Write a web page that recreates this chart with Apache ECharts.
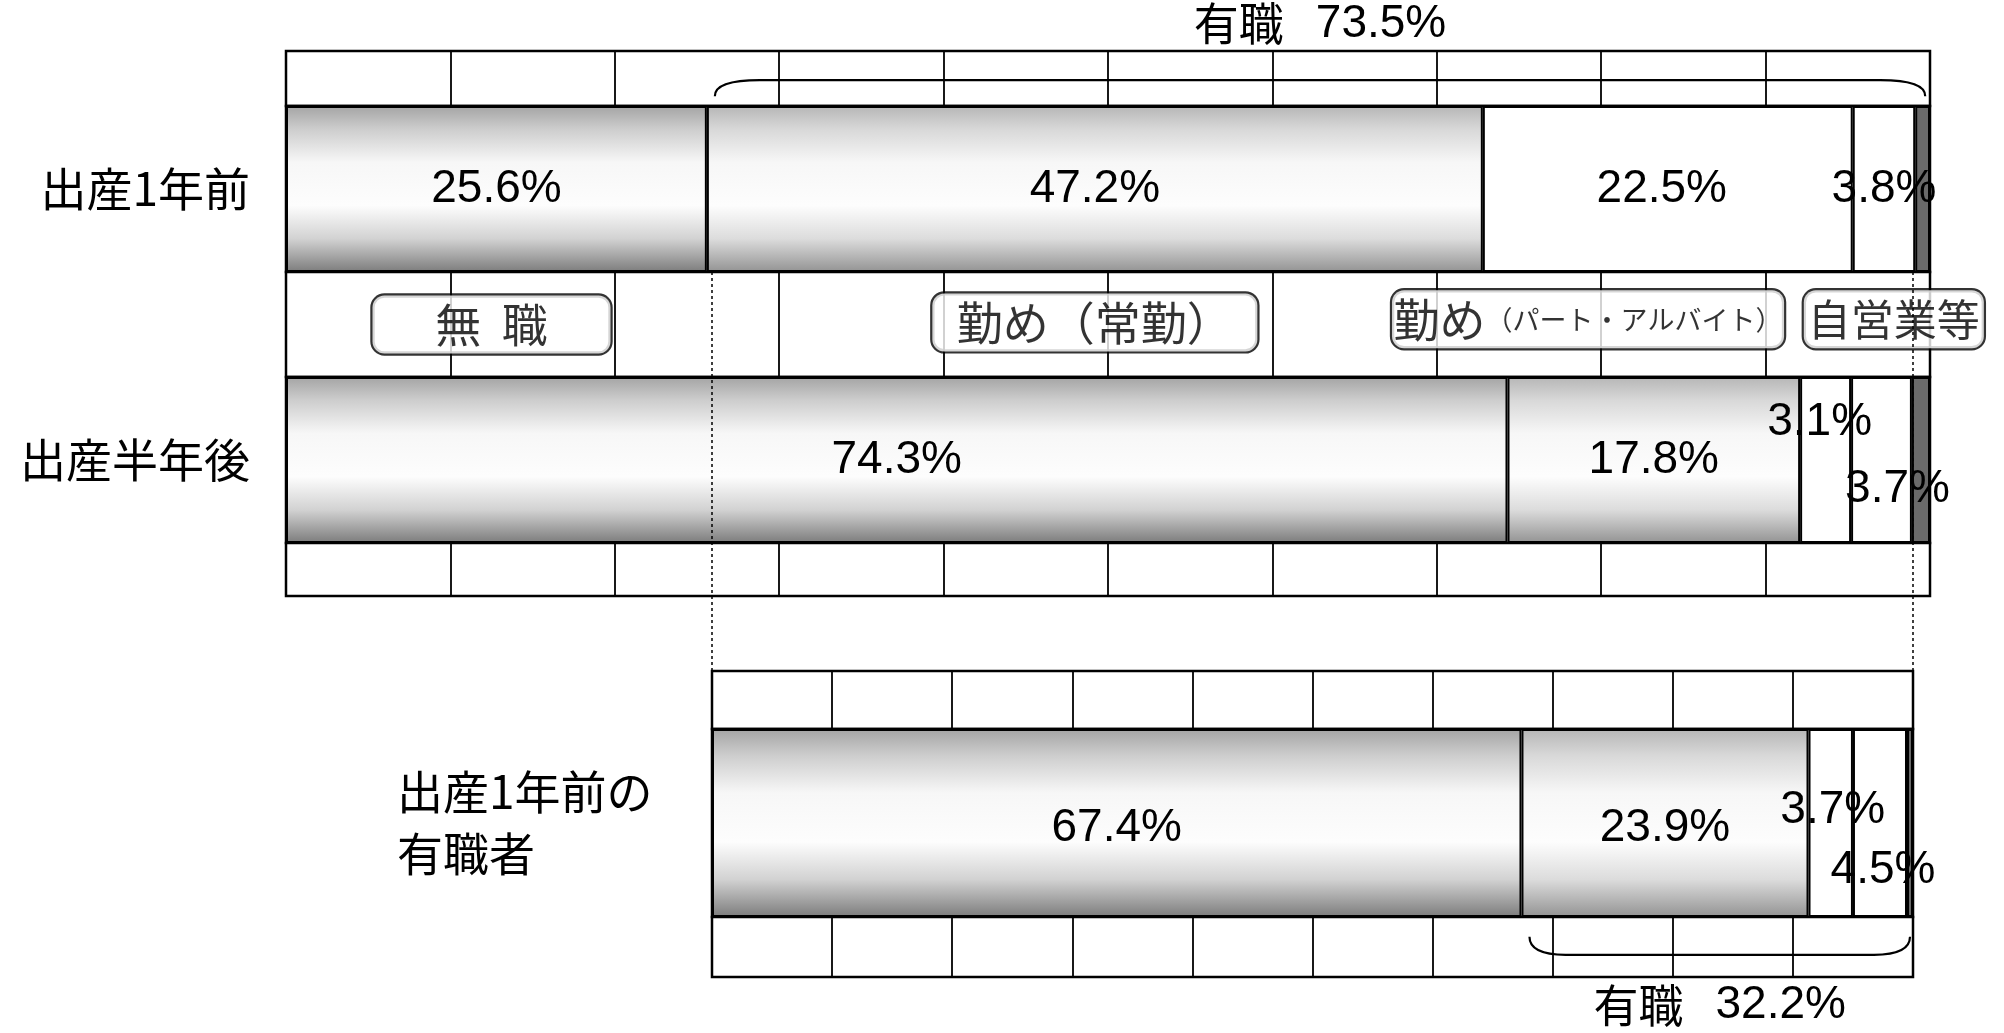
<!DOCTYPE html>
<html><head><meta charset="utf-8">
<script src="https://cdn.jsdelivr.net/npm/echarts@6/dist/echarts.min.js"></script>
<style>html,body{margin:0;padding:0;background:#fff}#c{width:2004px;height:1033px}</style>
</head><body><div id="c"></div>
<script>
// ---------------- data ----------------
const categories = ['出産1年前', '出産半年後', '出産1年前の有職者'];
const segmentNames = ['無職', '勤め(常勤)', '勤め(パート・アルバイト)', '自営業等', '不詳'];
const mushoku = [25.6, 74.3, 67.4];   // 無職
const joukin  = [47.2, 17.8, 23.9];   // 勤め(常勤)
const part    = [22.5, 3.1, 3.7];     // 勤め(パート・アルバイト)
const jiei    = [3.8, 3.7, 4.5];      // 自営業等
const fusho   = [0.9, 1.1, 0.5];      // 不詳
const yushokuTotals = [73.5, 32.2];   // 有職 (出産1年前, 出産1年前の有職者)
const legendTexts = ['無  職', '勤め（常勤）', '勤め(パート・アルバイト)', '自営業等'];

// ---------------- style / layout ----------------
const JP = '"Noto Sans CJK JP", "Noto Sans CJK SC", sans-serif';
const NUM = '"Liberation Sans", Arial, sans-serif';
const L1 = 286, W1 = 1644;
const L3 = 712, W3 = 1201;

function shade(top, upper, lower, bottom) {
  return {type: 'linear', x: 0, y: 0, x2: 0, y2: 1, colorStops: [
    {offset: 0, color: top}, {offset: 0.14, color: upper}, {offset: 0.34, color: '#f7f7f7'},
    {offset: 0.6, color: '#fdfdfd'}, {offset: 0.8, color: lower}, {offset: 1, color: bottom}]};
}
const segColors = [
  shade('#a4a4a4', '#cdcdcd', '#d2d2d2', '#7c7c7c'),
  shade('#b6b6b6', '#d8d8d8', '#dcdcdc', '#939393'),
  '#ffffff',
  '#ffffff',
  '#6a6a6a'
];
const segValues = [mushoku, joukin, part, jiei, fusho];

// grids: [left, top, width, height, isStrip]
const grids = [
  [L1, 51, W1, 55, true],
  [L1, 106, W1, 166, false],
  [L1, 272, W1, 105, true],
  [L1, 377, W1, 166, false],
  [L1, 543, W1, 53, true],
  [L3, 671, W3, 58, true],
  [L3, 729, W3, 188, false],
  [L3, 917, W3, 60, true]
];
const barGridIdx = [1, 3, 6];

const gridOpts = grids.map(g => ({
  left: g[0], top: g[1], width: g[2], height: g[3],
  show: true, borderColor: '#000', borderWidth: 2.5, backgroundColor: '#fff',
  containLabel: false, outerBoundsMode: 'none'
}));
const xAxes = grids.map((g, i) => ({
  type: 'value', gridIndex: i, min: 0, max: 100, interval: 10,
  axisLine: {show: false}, axisTick: {show: false}, axisLabel: {show: false},
  splitLine: {show: g[4], lineStyle: {color: '#000', width: 1.8}}
}));
const yAxes = grids.map((g, i) => {
  const b = barGridIdx.indexOf(i);
  if (b < 0) return {type: 'value', gridIndex: i, min: 0, max: 1, show: false};
  const last = b === 2;
  return {
    type: 'category', gridIndex: i, data: [categories[b]],
    axisLine: {show: false}, axisTick: {show: false}, splitLine: {show: false},
    axisLabel: {
      show: true, color: '#000', fontFamily: JP, fontSize: 46,
      margin: last ? 315 : 36, align: last ? 'left' : 'right',
      lineHeight: 62, padding: last ? [22, 0, 0, 0] : 0,
      formatter: v => last ? '出産1年前の\n有職者' : v
    }
  };
});

const labelOffsets = [
  [[0, 0], [0, 0], [-6, 0], [0, 0]],
  [[0, 0], [0, 0], [-6, -38], [16, 29]],
  [[0, 5], [0, 5], [2, -13], [3, 47]]
];

const series = [];
barGridIdx.forEach((gi, b) => {
  segValues.forEach((vals, s) => {
    series.push({
      type: 'bar', name: segmentNames[s], xAxisIndex: gi, yAxisIndex: gi,
      stack: 'bar' + b, barWidth: '100%', data: [vals[b]],
      itemStyle: {color: segColors[s], borderColor: '#000', borderWidth: 2},
      label: {
        show: s < 4, position: 'inside', offset: (labelOffsets[b][s] || [0, 0]),
        formatter: p => p.value.toFixed(1) + '%',
        color: '#000', fontFamily: NUM, fontSize: 46, textBorderWidth: 0
      },
      emphasis: {disabled: true}, silent: true, animation: false
    });
  });
});

// braces for 有職 totals
function braceSeries(gridIdx, start, end, yLevel, dir, textDy, total) {
  return {
    type: 'custom', xAxisIndex: gridIdx, yAxisIndex: gridIdx, clip: false, silent: true,
    data: [[start, end, yLevel]], encode: {x: [0, 1], y: 2},
    renderItem: (params, api) => {
      const p0 = api.coord([api.value(0), api.value(2)]);
      const p1 = api.coord([api.value(1), api.value(2)]);
      const x0 = p0[0] + 8, x1 = p1[0] + (dir > 0 ? 10 : 3), y = p0[1];
      const r = dir > 0 ? 45 : 36, d = dir > 0 ? 16 : -18;
      const path = `M${x0},${y + d} Q${x0},${y} ${x0 + r},${y} L${x1 - r},${y} Q${x1},${y} ${x1},${y + d}`;
      return {type: 'group', children: [
        {type: 'path', shape: {pathData: path}, style: {stroke: '#000', lineWidth: 2.2, fill: 'none'}},
        {type: 'text', style: {
          x: (x0 + x1) / 2, y: y + textDy, align: 'center', verticalAlign: 'middle',
          text: '{a|有職}{b|' + total.toFixed(1) + '%}',
          rich: {a: {fontFamily: JP, fontSize: 45, fill: '#000', padding: [0, 32, 0, 0]},
                 b: {fontFamily: NUM, fontSize: 46, fill: '#000'}}
        }}
      ]};
    }
  };
}
series.push(braceSeries(0, mushoku[0], 100 - fusho[0], 0.47, 1, -56, yushokuTotals[0]));
series.push(braceSeries(7, mushoku[2], 100 - fusho[2], 0.37, -1, 51, yushokuTotals[1]));

// legend boxes in the middle strip
const legendSpots = [
  {x: 12.5, y: 0.5, w: 238, text: '{a|' + legendTexts[0] + '}'},
  {x: 49.2, y: 0.52, w: 325, text: '{a|' + legendTexts[1] + '}'},
  {x: 79.2, y: 0.55, w: 392, text: '{a|勤め}{b|（パート・アルバイト）}'},
  {x: 97.8, y: 0.55, w: 180, text: '{c|' + legendTexts[3] + '}'}
];
series.push({
  type: 'scatter', xAxisIndex: 2, yAxisIndex: 2, silent: true, symbolSize: 1,
  itemStyle: {color: 'rgba(0,0,0,0)'}, z: 10,
  data: legendSpots.map(s => ({
    value: [s.x, s.y],
    label: {
      show: true, position: 'inside', formatter: s.text, width: s.w, height: 58,
      align: 'center', verticalAlign: 'middle',
      backgroundColor: '#fff', borderColor: '#000', borderWidth: 2.2, borderRadius: 12,
      rich: {
        a: {fontFamily: JP, fontSize: 46, color: '#000', lineHeight: 58},
        b: {fontFamily: JP, fontSize: 27, color: '#000', lineHeight: 58},
        c: {fontFamily: JP, fontSize: 43, color: '#000', lineHeight: 58}
      }
    }
  }))
});

const chart = echarts.init(document.getElementById('c'), null, {renderer: 'canvas'});
chart.setOption({
  backgroundColor: '#fff',
  animation: false,
  grid: gridOpts,
  xAxis: xAxes,
  yAxis: yAxes,
  series: series,
  graphic: [
    {type: 'line', z: 100, shape: {x1: L3, y1: 272, x2: L3, y2: 671},
     style: {stroke: '#000', lineWidth: 1.5, lineDash: [3, 3]}},
    {type: 'line', z: 100, shape: {x1: L3 + W3, y1: 272, x2: L3 + W3, y2: 671},
     style: {stroke: '#000', lineWidth: 1.5, lineDash: [3, 3]}}
  ]
});
</script></body></html>
